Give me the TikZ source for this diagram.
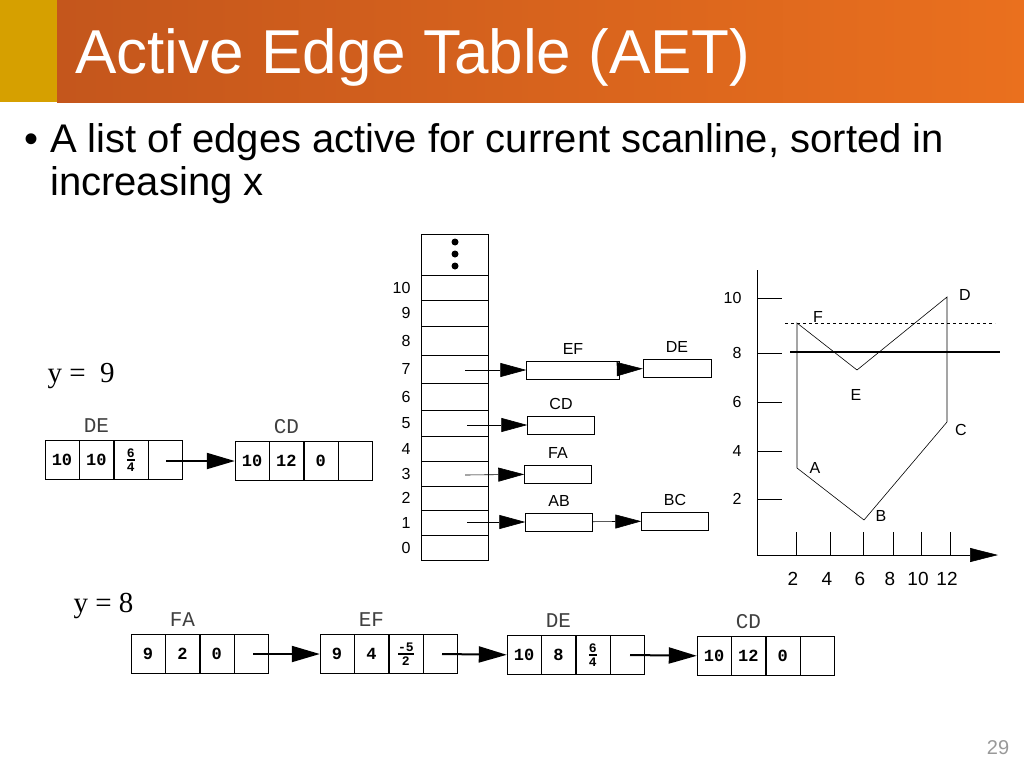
\documentclass[tikz,border=0pt]{standalone}
\usepackage{amsmath}
\usepackage{fontspec}
\setmainfont{Liberation Sans}
\newfontfamily\serifface{Liberation Serif}
\newfontfamily\monoface{Liberation Mono}
\usetikzlibrary{arrows.meta,positioning,calc}
\definecolor{titlegold}{RGB}{214,160,0}
\definecolor{titleleft}{RGB}{196,86,28}
\definecolor{titleright}{RGB}{234,112,30}

% one record of four cells, left corner at (#2,#3)
\newcommand{\edgerec}[7]{%
  \node[cell] (#1-1) at (#2+17,#3) {#4};
  \node[cell, right=0pt of #1-1] (#1-2) {#5};
  \node[cell, right=0pt of #1-2] (#1-3) {#6};
  \node[cell, right=0pt of #1-3] (#1-4) {};
  \node[reclabel, above=4pt of #1-#7] {#1};
}
\newcommand{\slope}[2]{$\genfrac{}{}{1.6pt}{}{\text{\monoface\bfseries\fontsize{13}{13}\selectfont #1}}{\text{\monoface\bfseries\fontsize{13}{13}\selectfont #2}}$}

\begin{document}
\begin{tikzpicture}[x=1pt, y=-1pt,
    cell/.style={draw, minimum width=34pt, minimum height=39pt, inner sep=0pt, font=\monoface\bfseries\fontsize{17}{17}\selectfont},
    reclabel/.style={font=\monoface\fontsize{21}{21}\selectfont, text=black!75},
    bucket/.style={draw, minimum width=67pt, inner sep=0pt},
    ebox/.style={draw, minimum height=18pt, inner sep=0pt},
    small/.style={font=\fontsize{16}{16}\selectfont},
    fat/.style={-{Triangle[length=28pt,width=16pt]}, line width=2pt},
    thin/.style={-{Triangle[length=26pt,width=14pt]}, semithick}]

    \useasboundingbox (0,0) rectangle (1024,768);
    % title bar
    \fill[titlegold] (0,0) rectangle (57,102);
    \shade[left color=titleleft, right color=titleright] (57,0) rectangle (1024,102);
    \node[anchor=base west, text=white, font=\fontsize{62}{62}\selectfont, inner sep=0pt] (title) at (75,73) {Active Edge Table (AET)};
    \node[anchor=base west, font=\fontsize{40}{40}\selectfont, inner sep=0pt] (bul) at (24,152) {\textbullet};
    \node[anchor=base west, font=\fontsize{40}{40}\selectfont, inner sep=0pt] (intro) at (50,152)
        {A list of edges active for current scanline, sorted in};
    \node[anchor=base west, font=\fontsize{40}{40}\selectfont, inner sep=0pt] (intro2) at (50,195)
        {increasing x};

    % bucket table
    \node[bucket, minimum height=41pt, anchor=north west] (dots) at (421,234) {};
    \foreach \d in {242,254,266} \fill (455,\d) circle (3.5pt);
    \foreach \lbl/\top/\h in {10/275/25, 9/300/26, 8/326/29, 7/355/28, 6/383/27, 5/410/26,
                             4/436/25, 3/461/25, 2/486/24, 1/510/25, 0/535/25} {
      \node[bucket, minimum height=\h pt, anchor=north west] (b\lbl) at (421,\top) {};
      \node[small, anchor=east] (n\lbl) at (414,\top+\h/2) {\lbl};
    }
    \node[ebox, minimum width=93pt] (ef) at (573,370) {};
    \node[ebox, minimum width=68pt] (de) at (677,368) {};
    \node[ebox, minimum width=67pt] (cd) at (561,425) {};
    \node[ebox, minimum width=67pt] (fa) at (558,474) {};
    \node[ebox, minimum width=67pt] (ab) at (559,522) {};
    \node[ebox, minimum width=67pt] (bc) at (675,521) {};
    \foreach \b/\t in {ef/EF, de/DE, cd/CD, fa/FA, ab/AB, bc/BC}
      \node[small, above=3pt of \b] {\t};
    \coordinate (p7) at (465,370);
    \coordinate (p5) at (467,425);
    \coordinate (p3) at (465,475);
    \coordinate (p1) at (467,522);
    \draw[thin] (p7) -- (ef);
    \draw[thin] (p5) -- (cd);
    \draw[thin] (p3) -- (fa);
    \draw[thin] (p1) -- (ab);
    \draw[thin] (ef) -- (de);
    \draw[thin] (ab) -- (bc);

    % polygon chart
    \coordinate (o) at (757,555);
    \coordinate (xe) at (998,555);
    \draw[semithick] (757,270) -- (o);
    \draw[semithick, -{Triangle[length=28pt,width=14pt]}] (o) -- (xe);
    \foreach \v/\yy in {10/298, 8/353, 6/402, 4/451, 2/499} {
      \draw[semithick] (757,\yy) -- (782,\yy);
      \node[small, anchor=east] (y\v) at (745,\yy) {\v};
    }
    \foreach \v/\xx in {2/793, 4/827, 6/860, 8/890, 10/918, 12/947} {
      \draw[semithick] (\xx+3,532) -- (\xx+3,555);
      \node[font=\fontsize{19}{19}\selectfont] (x\v) at (\xx,579) {\v};
    }
    \coordinate (A) at (797,468);
    \coordinate (B) at (864,520);
    \coordinate (C) at (947,422);
    \coordinate (D) at (947,297);
    \coordinate (E) at (857,370);
    \coordinate (F) at (797,323);
    \draw[semithick] (A) -- (B) -- (C) -- (D) -- (E) -- (F) -- cycle;
    \draw[dashed] (785,323) -- (995,323);
    \draw[line width=2pt] (790,352) -- (1000,352);
    \foreach \p/\xx/\yy in {A/815/468, B/881/516, C/961/430, D/965/295, E/856/395, F/818/317}
      \node[small] at (\xx,\yy) {\p};

    % y = 9
    \node[font=\serifface\fontsize{29}{29}\selectfont, anchor=base west] (y9) at (44,382) {y =\ \ 9};
    \edgerec{DE}{45}{460}{10}{10}{\slope{6}{4}}{2}
    \edgerec{CD}{235}{461}{10}{12}{0}{2}
    \coordinate (s1) at (166,461);
    \draw[fat] (s1) -- (CD-1);

    % y = 8
    \node[font=\serifface\fontsize{29}{29}\selectfont, anchor=base west] (y8) at (70,612) {y = 8};
    \edgerec{FA}{131}{654}{9}{2}{0}{2}
    \edgerec{EF}{320}{654}{9}{4}{\slope{-5}{2}}{2}
    \edgerec{DE}{507}{655}{10}{8}{\slope{6}{4}}{2}
    \edgerec{CD}{697}{656}{10}{12}{0}{2}
    \coordinate (s2) at (253,654);
    \coordinate (s3) at (442,654);
    \coordinate (s4) at (630,655);
    \draw[fat] (s2) -- (EF-1);
    \draw[fat] (s3) -- (DE-1);
    \draw[fat] (s4) -- (CD-1);

    \node[text=black!40, font=\fontsize{20}{20}\selectfont] (page) at (998,748) {29};
\end{tikzpicture}
\end{document}
